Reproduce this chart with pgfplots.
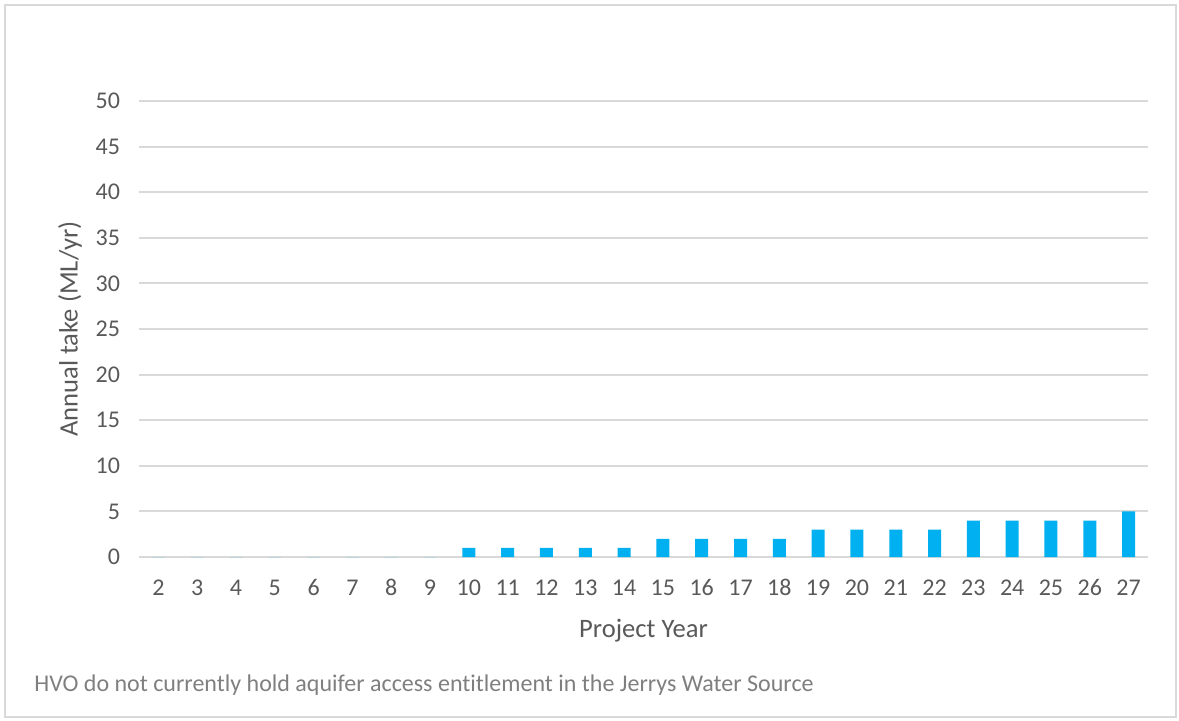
\documentclass[border=0pt]{standalone}
\usepackage{pgfplots}
\pgfplotsset{compat=1.18}
\usepackage{fontspec}
\setmainfont[Ligatures=NoCommon]{Carlito}
\definecolor{barblue}{HTML}{00B0F0}
\definecolor{gridgray}{HTML}{D9D9D9}
\definecolor{labelgray}{HTML}{595959}
\definecolor{notegray}{HTML}{7F7F7F}

\pgfplotstableread{
year take
2 0
3 0
4 0
5 0
6 0
7 0
8 0
9 0
10 1
11 1
12 1
13 1
14 1
15 2
16 2
17 2
18 2
19 3
20 3
21 3
22 3
23 4
24 4
25 4
26 4
27 5
}\taketable

\begin{document}
\begin{tikzpicture}
% page frame
\path[use as bounding box] (0,0) rectangle (589.5pt,360pt);
\draw[gridgray, line width=1.4pt] (2.5pt,1.5pt) rectangle (588pt,357.5pt);
\begin{axis}[
  at={(69.5pt,81.5pt)}, anchor=south west,
  scale only axis,
  width=504.5pt, height=228pt,
  xmin=1.5, xmax=27.5,
  ymin=0, ymax=50,
  ytick={0,5,...,50},
  xtick={2,...,27},
  /pgf/number format/assume math mode=true,
  typeset ticklabels with strut,
  axis line style={draw=none},
  major tick length=0pt,
  ymajorgrids,
  grid style={gridgray, line width=1pt},
  ticklabel style={font=\fontsize{12}{14}\selectfont, text=labelgray},
  yticklabel style={xshift=-6pt, yshift=-1pt},
  xticklabel style={yshift=-6pt},
  xlabel={Project Year},
  ylabel={Annual take (ML/yr)},
  label style={font=\fontsize{13.3}{15}\selectfont, text=labelgray},
  xlabel style={yshift=-0.5pt},
  ylabel style={yshift=0pt},
  clip=false,
]
\addplot[ybar, bar width=6.5pt, fill=barblue, draw=none] table[x=year, y=take] {\taketable};
\end{axis}
\node[anchor=west, text=notegray, font=\fontsize{12}{14}\selectfont, inner sep=0pt] at (17pt,17.5pt)
  {HVO do not currently hold aquifer access entitlement in the Jerrys Water Source};
\end{tikzpicture}
\end{document}
